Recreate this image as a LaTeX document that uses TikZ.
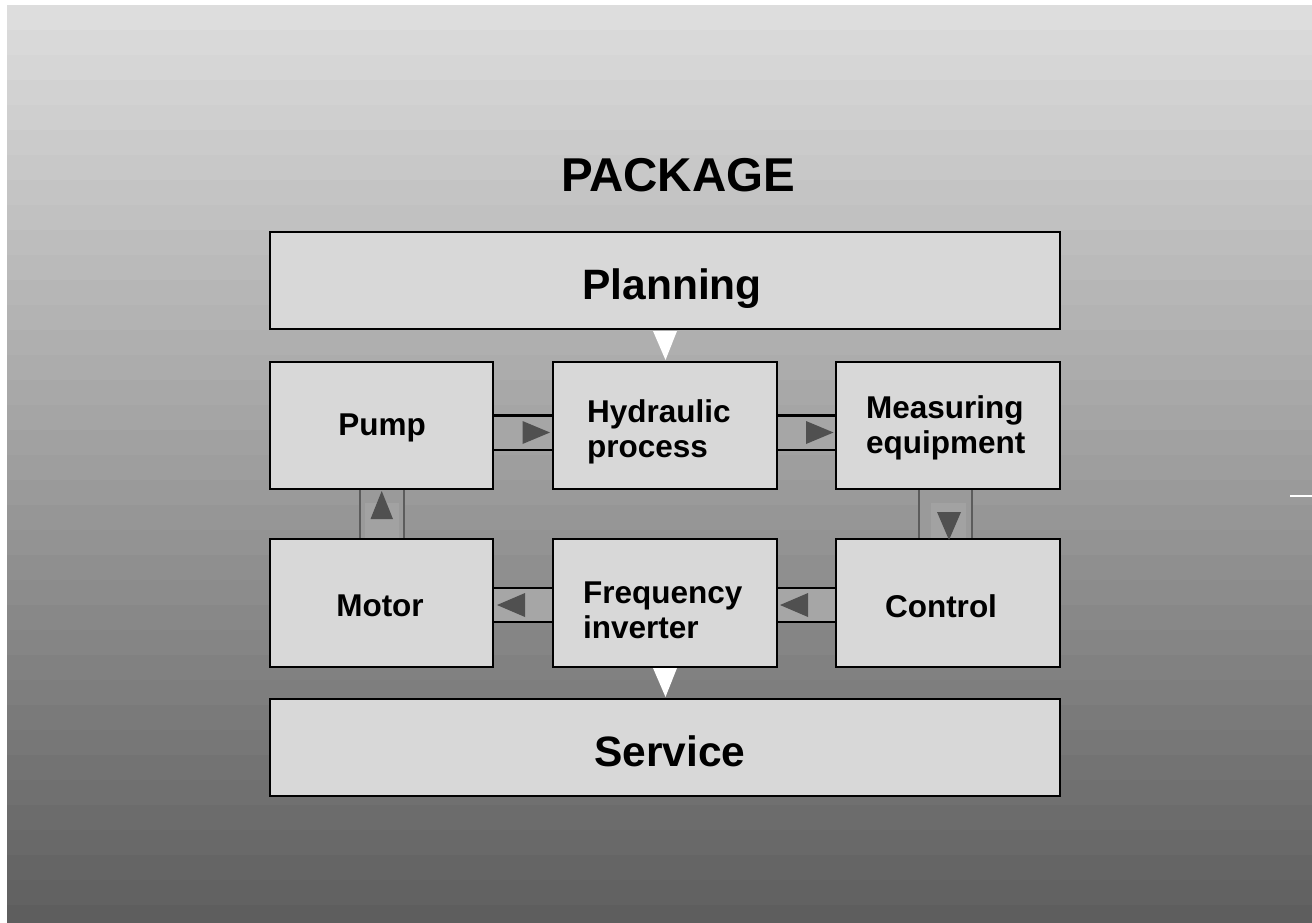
\documentclass[tikz,border=0pt]{standalone}
\usepackage{fontspec}
\setmainfont{Liberation Sans}
\usetikzlibrary{calc}
\definecolor{boxfill}{HTML}{D8D8D8}
\definecolor{chanfill}{HTML}{A6A6A6}
\definecolor{vchanfill}{HTML}{9A9A9A}
\definecolor{vchaninner}{HTML}{A2A2A2}
\definecolor{vchanline}{HTML}{5C5C5C}
\definecolor{arrowgray}{HTML}{505050}
\tikzset{
  block/.style={fill=boxfill, inner sep=0pt,
    minimum width=223pt, minimum height=127pt},
  wideblock/.style={draw=black, line width=2.2pt, fill=boxfill, inner sep=0pt,
    minimum width=790pt, minimum height=97pt},
  bigtext/.style={font=\fontsize{42.5}{48}\selectfont\bfseries, inner sep=0pt},
  label/.style={font=\fontsize{31.5}{35}\selectfont\bfseries, align=left, inner sep=0pt},
  chanline/.style={draw=black, line width=2.2pt},
  flowtip/.style={fill=arrowgray},
  feedtip/.style={fill=white}
}
\begin{document}
\begin{tikzpicture}[x=1pt, y=-1pt]
\useasboundingbox (0,0) rectangle (1312,923);
\fill[white] (0,0) rectangle (1312,923);
% banded grey background, light at the top and dark at the bottom
\foreach \i in {0,...,36}{
  \pgfmathsetmacro{\ya}{5+\i*25}
  \pgfmathsetmacro{\yb}{min(923,\ya+25)}
  \pgfmathtruncatemacro{\g}{223-0.1405*(\i*25+12.5)}
  \fill[color={rgb,255:red,\g;green,\g;blue,\g}] (7,\ya) rectangle (1312,\yb);
}
\draw[white, line width=2pt] (1290,496) -- (1312,496);

% title
\node[font=\fontsize{47.5}{52}\selectfont\bfseries] (title) at (678,175) {PACKAGE};

% blocks
\node[wideblock] (plan) at (665,280.5) {};
\node[bigtext] at (672,289) {Planning};
\node[block] (pump) at (381.5,425.5) {};
\node[block] (hyd)  at (665,425.5) {};
\node[block] (meas) at (948,425.5) {};
\node[block] (motor) at (381.5,603) {};
\node[block] (freq)  at (665,603) {};
\node[block] (ctrl)  at (948,603) {};
\node[wideblock] (serv) at (665,747.5) {};
\node[bigtext] at (670,751.5) {Service};

% block texts
\node[label, anchor=center] at (382,428) {Pump};
\node[label, anchor=west] at (587,432) {Hydraulic\\process};
\node[label, anchor=west] at (866,428) {Measuring\\equipment};
\node[label, anchor=center] at (380,606) {Motor};
\node[label, anchor=west] at (583,610) {Frequency\\inverter};
\node[label, anchor=center] at (941,606) {Control};

% horizontal channels between neighbouring blocks
\coordinate (r1t) at (0,415.5);
\coordinate (r1b) at (0,450);
\coordinate (r2t) at (0,588);
\coordinate (r2b) at (0,622);
\foreach \a/\b/\t/\u in {pump/hyd/r1t/r1b, hyd/meas/r1t/r1b, motor/freq/r2t/r2b, freq/ctrl/r2t/r2b}{
  \fill[chanfill] (\a.east |- \t) rectangle (\b.west |- \u);
  \draw[chanline] (\a.east |- \t) -- (\b.west |- \t);
  \draw[chanline] (\a.east |- \u) -- (\b.west |- \u);
}
% vertical channels
\coordinate (vl1) at (360,0);
\coordinate (vl2) at (404,0);
\coordinate (vr1) at (919,0);
\coordinate (vr2) at (972,0);
\fill[vchanfill] (motor.north -| vl1) rectangle (pump.south -| vl2);
\fill[vchaninner] (365,503) rectangle (399,538.8);
\draw[vchanline, line width=1.5pt] (motor.north -| vl1) -- (pump.south -| vl1)
  (motor.north -| vl2) -- (pump.south -| vl2);
\fill[vchanfill] (meas.south -| vr1) rectangle (ctrl.north -| vr2);
\fill[vchaninner] (931,503) rectangle (966,538.8);
\draw[vchanline, line width=1.5pt] (meas.south -| vr1) -- (ctrl.north -| vr1)
  (meas.south -| vr2) -- (ctrl.north -| vr2);
% block borders, drawn over the channel ends
\foreach \n in {pump,hyd,meas,motor,freq,ctrl}{
  \draw[black, line width=2.2pt] (\n.south west) rectangle (\n.north east);
}

% flow tips
\fill[flowtip] (522.5,421) -- (550,432.5) -- (522.5,444) -- cycle;
\fill[flowtip] (806,421) -- (833.5,432.5) -- (806,444) -- cycle;
\fill[flowtip] (525,593) -- (497,605) -- (525,617) -- cycle;
\fill[flowtip] (808,593) -- (780,605) -- (808,617) -- cycle;
\fill[flowtip] (370.5,519) -- (381.7,491) -- (393,519) -- cycle;
\fill[flowtip] (937,512) -- (949,540) -- (961,512) -- cycle;

% white tips from Planning and into Service
\fill[feedtip] (653,331) -- (677,331) -- (665.5,360) -- cycle;
\fill[feedtip] (653,668) -- (677,668) -- (665.5,697) -- cycle;
\end{tikzpicture}
\end{document}
